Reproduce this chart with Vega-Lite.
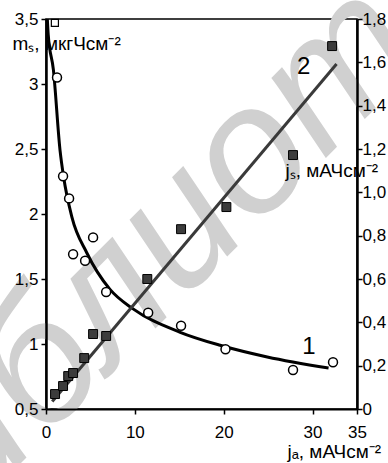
{
  "$schema": "https://vega.github.io/schema/vega-lite/v6.json",
  "width": 311,
  "height": 390,
  "autosize": "none",
  "padding": {"left": 46, "top": 19, "right": 31, "bottom": 54},
  "background": "white",
  "config": {
    "view": {"stroke": "black", "strokeWidth": 1.5},
    "font": "Liberation Sans",
    "axis": {
      "labelFont": "Liberation Sans",
      "labelFontSize": 17,
      "labelColor": "black",
      "titleFont": "Liberation Sans",
      "titleFontSize": 19,
      "titleFontWeight": "normal",
      "titleColor": "black",
      "domainColor": "black",
      "tickColor": "black",
      "tickWidth": 1.5,
      "grid": false,
      "labelFlush": false,
      "labelOverlap": false
    }
  },
  "datasets": {
    "wm": [{"x": 20.4, "y": 2.26, "t": "библиотека"}],
    "curve1": [
      {"x": 0.15, "y": 3.5}, {"x": 0.25, "y": 3.38}, {"x": 0.83, "y": 3.11},
      {"x": 1.58, "y": 2.49}, {"x": 1.97, "y": 2.29}, {"x": 2.9, "y": 1.98},
      {"x": 4.6, "y": 1.7}, {"x": 7.2, "y": 1.42}, {"x": 9.8, "y": 1.27},
      {"x": 15.1, "y": 1.09}, {"x": 19.6, "y": 0.99}, {"x": 24.9, "y": 0.9},
      {"x": 31.8, "y": 0.815}
    ],
    "pts1": [
      {"x": 1.24, "y": 3.05}, {"x": 1.92, "y": 2.29}, {"x": 2.6, "y": 2.12},
      {"x": 5.3, "y": 1.82}, {"x": 3.05, "y": 1.69}, {"x": 4.4, "y": 1.64},
      {"x": 6.77, "y": 1.4}, {"x": 11.5, "y": 1.24}, {"x": 15.2, "y": 1.14},
      {"x": 20.2, "y": 0.96}, {"x": 27.8, "y": 0.8}, {"x": 32.3, "y": 0.86}
    ],
    "sq1": [{"x": 1.0, "y": 3.47}],
    "lab1": [{"x": 29.6, "y": 0.98, "t": "1"}],
    "line2": [{"x": 0.7, "y": 0.035}, {"x": 32.7, "y": 1.592}],
    "pts2": [
      {"x": 1.02, "y": 0.069}, {"x": 1.92, "y": 0.106}, {"x": 2.5, "y": 0.152},
      {"x": 3.05, "y": 0.166}, {"x": 4.3, "y": 0.235}, {"x": 5.3, "y": 0.346},
      {"x": 6.77, "y": 0.337}, {"x": 11.4, "y": 0.6}, {"x": 15.2, "y": 0.83},
      {"x": 20.3, "y": 0.932}, {"x": 27.8, "y": 1.172}, {"x": 32.2, "y": 1.675}
    ],
    "lab2": [{"x": 29.0, "y": 1.578, "t": "2"}]
  },
  "layer": [
    {
      "encoding": {
        "x": {
          "field": "x", "type": "quantitative",
          "scale": {"domain": [0, 35], "nice": false, "zero": false},
          "axis": {
            "orient": "bottom",
            "zindex": 2,
            "values": [0, 10, 20, 30, 35],
            "tickSize": 5,
            "labelPadding": 10,
            "domainWidth": 2,
            "title": "jₐ, мАЧсм⁻²",
            "titleAngle": 0,
            "titleAlign": "left",
            "titleBaseline": "middle",
            "titleX": 241,
            "titleY": 42
          }
        },
        "y": {
          "field": "y", "type": "quantitative",
          "scale": {"domain": [0.5, 3.5], "nice": false, "zero": false},
          "axis": {
            "orient": "left",
            "zindex": 2,
            "values": [0.5, 1, 1.5, 2, 2.5, 3, 3.5],
            "labelExpr": "replace(format(datum.value, '~g'), '.', ',')",
            "tickSize": 5,
            "labelPadding": 3,
            "domainWidth": 2.5,
            "title": "mₛ, мкгЧсм⁻²",
            "titleAngle": 0,
            "titleAlign": "left",
            "titleBaseline": "middle",
            "titleX": -34,
            "titleY": 24
          }
        }
      },
      "layer": [
        {
          "data": {"name": "wm"},
          "mark": {"type": "text", "fontSize": 180, "fontWeight": "normal", "fontStyle": "italic", "angle": -45, "color": "#d0d0d0", "align": "center", "baseline": "middle", "zindex": 0},
          "encoding": {"text": {"field": "t"}}
        },
        {
          "data": {"name": "curve1"},
          "mark": {"type": "line", "color": "black", "strokeWidth": 3, "interpolate": "monotone"},
          "encoding": {}
        },
        {
          "data": {"name": "pts1"},
          "mark": {"type": "point", "shape": "circle", "filled": true, "fill": "white", "stroke": "black", "strokeWidth": 1.5, "size": 80, "opacity": 1},
          "encoding": {}
        },
        {
          "data": {"name": "sq1"},
          "mark": {"type": "point", "shape": "square", "filled": true, "fill": "white", "stroke": "black", "strokeWidth": 1.2, "size": 50, "opacity": 1},
          "encoding": {}
        },
        {
          "data": {"name": "lab1"},
          "mark": {"type": "text", "fontSize": 24, "color": "black", "align": "center", "baseline": "middle"},
          "encoding": {"text": {"field": "t"}}
        }
      ]
    },
    {
      "encoding": {
        "x": {
          "field": "x", "type": "quantitative",
          "scale": {"domain": [0, 35], "nice": false, "zero": false}
        },
        "y": {
          "field": "y", "type": "quantitative",
          "scale": {"domain": [0, 1.8], "nice": false, "zero": false},
          "axis": {
            "orient": "right",
            "zindex": 2,
            "values": [0, 0.2, 0.4, 0.6, 0.8, 1.0, 1.2, 1.4, 1.6, 1.8],
            "labelExpr": "datum.value == 0 ? '0' : replace(format(datum.value, '.1f'), '.', ',')",
            "tickSize": 5,
            "labelPadding": 0,
            "domainWidth": 2.5,
            "title": "jₛ, мАЧсм⁻²",
            "titleAngle": 0,
            "titleAlign": "left",
            "titleBaseline": "middle",
            "titleX": -72,
            "titleY": 151
          }
        }
      },
      "layer": [
        {
          "data": {"name": "line2"},
          "mark": {"type": "line", "color": "#3a3a3a", "strokeWidth": 3},
          "encoding": {}
        },
        {
          "data": {"name": "pts2"},
          "mark": {"type": "point", "shape": "square", "filled": true, "fill": "#3c3c3c", "stroke": "black", "strokeWidth": 1, "size": 80, "opacity": 1},
          "encoding": {}
        },
        {
          "data": {"name": "lab2"},
          "mark": {"type": "text", "fontSize": 24, "color": "black", "align": "center", "baseline": "middle"},
          "encoding": {"text": {"field": "t"}}
        }
      ]
    }
  ],
  "resolve": {"scale": {"y": "independent"}, "axis": {"y": "independent"}}
}
